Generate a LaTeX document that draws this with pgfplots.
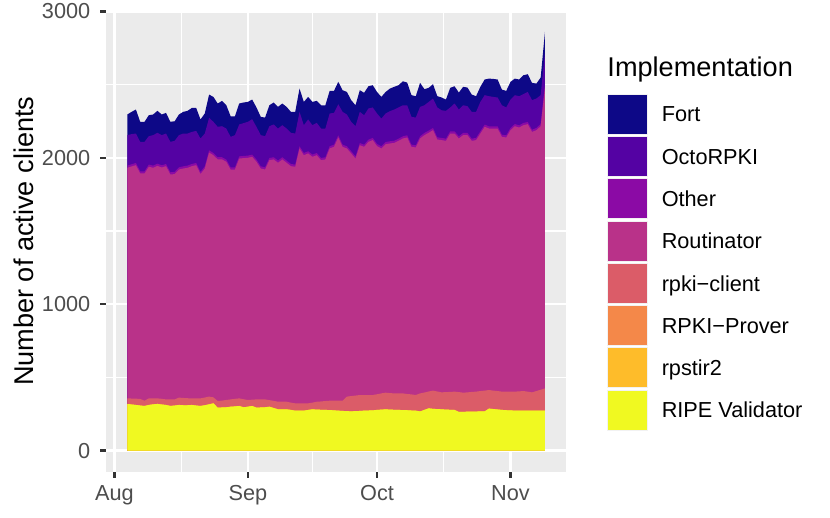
\documentclass[border=0pt]{standalone}
\usepackage{fontspec}
\setmainfont{Liberation Sans}
\usepackage{pgfplots}
\usepackage{pgfplotstable}
\pgfplotsset{compat=1.18}
\definecolor{fortc}{HTML}{0D0887}
\definecolor{octoc}{HTML}{5402A3}
\definecolor{otherc}{HTML}{8B0AA5}
\definecolor{routc}{HTML}{B93289}
\definecolor{clientc}{HTML}{DB5C68}
\definecolor{proverc}{HTML}{F48849}
\definecolor{rpstirc}{HTML}{FEBC2A}
\definecolor{ripec}{HTML}{F0F921}
\definecolor{panelc}{HTML}{EBEBEB}
\definecolor{tickc}{HTML}{333333}
\definecolor{labc}{HTML}{4D4D4D}
\definecolor{legb}{HTML}{F2F2F2}
% cumulative tops of each layer (day 0 = 1 Aug)
\pgfplotstableread{
day total octo other rout client ripe
3 2296 2155 1947 1932 357 319
4 2314 2162 1956 1941 356 315
5 2330 2166 1965 1950 355 312
6 2246 2109 1908 1893 353 308
7 2246 2109 1908 1893 341 305
8 2291 2148 1954 1939 357 312
9 2296 2155 1947 1932 357 316
10 2321 2171 1960 1945 357 319
11 2296 2155 1949 1934 354 315
12 2307 2166 1958 1943 350 312
13 2246 2109 1901 1886 350 305
14 2250 2116 1904 1889 350 308
15 2296 2155 1935 1920 362 312
16 2314 2166 1942 1927 360 310
17 2321 2166 1947 1932 358 310
18 2341 2177 1958 1943 357 312
19 2341 2184 1965 1950 357 308
20 2262 2132 1904 1889 357 305
21 2303 2166 1942 1927 363 310
22 2432 2273 2051 2036 369 316
23 2416 2246 2033 2018 364 323
24 2371 2212 2004 1989 339 293
25 2389 2216 2004 1989 342 295
26 2359 2200 1988 1973 346 296
27 2284 2143 1935 1920 350 300
28 2284 2155 1935 1920 354 302
29 2371 2228 2010 1995 357 305
30 2378 2237 2013 1998 351 296
31 2382 2246 2015 2000 346 300
32 2398 2264 2022 2007 348 305
33 2344 2212 1988 1973 350 293
34 2280 2155 1942 1927 350 295
35 2275 2148 1935 1920 350 296
36 2359 2216 1999 1984 345 300
37 2378 2228 2004 1989 340 291
38 2348 2200 1981 1966 334 282
39 2371 2223 2004 1989 334 282
40 2348 2200 1981 1966 334 282
41 2314 2171 1958 1943 328 278
42 2314 2166 1954 1939 323 273
43 2473 2314 2079 2064 323 273
44 2382 2223 2033 2018 323 273
45 2416 2262 2045 2030 323 278
46 2382 2223 2022 2007 328 282
47 2389 2239 2033 2018 334 280
48 2359 2200 1999 1984 336 279
49 2359 2200 2004 1989 339 278
50 2457 2303 2079 2064 341 277
51 2457 2307 2090 2075 341 275
52 2519 2366 2154 2139 341 273
53 2462 2314 2090 2075 341 271
54 2450 2296 2079 2064 369 270
55 2394 2246 2045 2030 373 268
56 2359 2216 2010 1995 376 270
57 2462 2314 2101 2086 380 271
58 2444 2291 2090 2075 380 273
59 2489 2337 2124 2109 380 274
60 2496 2344 2136 2121 380 275
61 2450 2303 2095 2080 385 278
62 2416 2268 2079 2064 391 280
63 2450 2303 2108 2093 396 282
64 2473 2319 2113 2098 393 280
65 2485 2330 2117 2102 391 279
66 2496 2344 2131 2116 391 278
67 2523 2359 2147 2132 391 277
68 2514 2359 2154 2139 387 276
69 2428 2280 2090 2075 384 274
70 2421 2275 2086 2071 380 273
71 2512 2348 2147 2132 391 268
72 2469 2359 2170 2155 397 278
73 2478 2382 2186 2171 404 289
74 2503 2405 2204 2189 410 285
75 2421 2344 2140 2125 404 284
76 2412 2325 2136 2121 398 282
77 2398 2321 2131 2116 400 280
78 2478 2344 2181 2166 401 279
79 2489 2371 2181 2166 403 278
80 2446 2330 2147 2132 400 264
81 2485 2359 2170 2155 396 265
82 2480 2353 2170 2155 398 266
83 2432 2314 2131 2116 401 266
84 2421 2314 2136 2121 403 267
85 2485 2382 2181 2166 407 268
86 2535 2428 2227 2212 410 268
87 2541 2421 2215 2200 414 287
88 2539 2416 2215 2200 410 284
89 2535 2412 2215 2200 407 281
90 2466 2359 2158 2143 403 278
91 2457 2344 2154 2139 403 276
92 2519 2398 2204 2189 403 275
93 2541 2428 2231 2216 403 273
94 2535 2421 2222 2207 405 273
95 2564 2435 2238 2223 407 273
96 2571 2450 2245 2230 403 273
97 2512 2394 2192 2177 398 273
98 2507 2405 2204 2189 407 273
99 2548 2428 2231 2216 416 273
100 2860 2720 2500 2480 425 273
}\data
\begin{document}
\begin{tikzpicture}
\path[use as bounding box] (0,0) rectangle (367.26pt,229.2pt);
\begin{axis}[
  at={(47.08pt,20.53pt)}, anchor=south west,
  scale only axis, width=203.3pt, height=203.8pt,
  xmin=-1.85, xmax=104.85, ymin=-143, ymax=3003,
  xtick={0,31,61,92}, xticklabels={Aug,Sep,Oct,Nov},
  ytick={0,1000,2000,3000},
  minor xtick={15.5,46,76.5}, minor ytick={500,1500,2500},
  grid=both,
  major grid style={white, line width=1.07pt},
  minor grid style={white, line width=0.53pt},
  axis background/.style={fill=panelc},
  axis line style={draw=none},
  tick pos=left, tick align=outside,
  major tick length=2.75pt, minor tick length=0pt,
  tick style={color=tickc, line width=1.07pt},
  /pgf/number format/assume math mode=true,
  /pgf/number format/1000 sep={},
  tick label style={font=\fontsize{9.6}{11}\selectfont, text=labc, inner sep=0pt},
  yticklabel style={anchor=east, xshift=-4.2pt},
  xticklabel style={anchor=north, text height=6.87pt, yshift=-3.18pt},
  ylabel={Number of active clients},
  every axis y label/.style={at={(axis description cs:-0.1591,0.5)}, rotate=90, anchor=base, font=\fontsize{12}{14}\selectfont, inner sep=0pt},
  legend cell align=left,
  legend style={at={(axis description cs:1.0887,0.8213)}, anchor=north west,
    draw=none, fill=none, inner sep=0pt, row sep=0.6pt,
    font=\fontsize{9.6}{11}\selectfont,
    nodes={inner sep=0pt, text height=6.87pt, text depth=0pt},
    /tikz/every odd column/.append style={column sep=6.1pt}},
  legend image code/.code={\fill[#1, draw=legb, line width=0.4pt] (0pt,-8.85pt) rectangle (17.7pt,8.85pt);},
  no markers,
]
\addplot[fill=fortc, draw=none] table[x=day, y=total] {\data} \closedcycle;
\addlegendentry{Fort}
\addplot[fill=octoc, draw=none] table[x=day, y=octo] {\data} \closedcycle;
\addlegendentry{OctoRPKI}
\addplot[fill=otherc, draw=none] table[x=day, y=other] {\data} \closedcycle;
\addlegendentry{Other}
\addplot[fill=routc, draw=none] table[x=day, y=rout] {\data} \closedcycle;
\addlegendentry{Routinator}
\addplot[fill=clientc, draw=none] table[x=day, y=client] {\data} \closedcycle;
\addlegendentry{rpki−client}
\addplot[fill=proverc, draw=none] table[x=day, y=ripe] {\data} \closedcycle;
\addlegendentry{RPKI−Prover}
\addplot[fill=rpstirc, draw=none] table[x=day, y=ripe] {\data} \closedcycle;
\addlegendentry{rpstir2}
\addplot[fill=ripec, draw=none] table[x=day, y=ripe] {\data} \closedcycle;
\addlegendentry{RIPE Validator}
\end{axis}
\node[anchor=base west, inner sep=0pt, font=\fontsize{12}{14}\selectfont] at (268.6pt,195.3pt) {Implementation};
\end{tikzpicture}
\end{document}
